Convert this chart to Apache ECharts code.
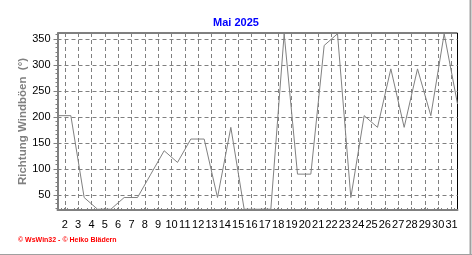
<!DOCTYPE html>
<html><head><meta charset="utf-8">
<script src="https://cdn.jsdelivr.net/npm/echarts@6/dist/echarts.min.js"></script>
<style>html,body{margin:0;padding:0;background:#fff}#c{width:472px;height:255px}</style>
</head><body><div id="c"></div>
<script>
// ---- data ----
const titleText = 'Mai 2025';
const yAxisName = 'Richtung Windböen  (°)';
const footerText = '© WsWin32 - © Heiko Blädern';
const days = [1,2,3,4,5,6,7,8,9,10,11,12,13,14,15,16,17,18,19,20,21,22,23,24,25,26,27,28,29,30,31];
const gustDirection = [202.5,202.5,45,22.5,22.5,45,45,90,135,112.5,157.5,157.5,45,180,22.5,22.5,22.5,360,90,90,337.5,360,45,202.5,180,292.5,180,292.5,202.5,360,225];
const xTickLabels = [2,3,4,5,6,7,8,9,10,11,12,13,14,15,16,17,18,19,20,21,22,23,24,25,26,27,28,29,30,31];
const yTickLabels = [50,100,150,200,250,300,350];

// ---- chart ----
const TICK_SHIFT = 0.45; // day labels sit between daily points
const grey = '#808080';
const font = 'Liberation Sans';
const chart = echarts.init(document.getElementById('c'), null, {renderer: 'canvas'});
const xTickPos = xTickLabels.map(d => d - TICK_SHIFT);
chart.setOption({
  animation: false,
  backgroundColor: '#fff',
  title: {
    text: titleText, left: 'center', top: 12,
    textStyle: {color: '#0000ff', fontSize: 11, fontWeight: 'bold', fontFamily: font}
  },
  grid: {left: 57.5, right: 14.5, top: 33, bottom: 45, show: true, borderColor: '#000', borderWidth: 1, backgroundColor: 'transparent'},
  xAxis: {
    type: 'value', min: 1, max: 31, interval: 1,
    axisLine: {show: true, onZero: false, lineStyle: {color: grey, width: 2}},
    axisTick: {show: true, inside: true, length: 3, customValues: xTickPos, lineStyle: {color: grey}},
    minorTick: {show: true, splitNumber: 4, length: 2, lineStyle: {color: grey}},
    axisLabel: {
      customValues: xTickPos, margin: 9, color: '#000', fontSize: 11, fontFamily: font,
      formatter: v => String(Math.round(v + TICK_SHIFT))
    },
    splitLine: {show: true, lineStyle: {color: grey, width: 1, type: [4, 3]}}
  },
  yAxis: {
    type: 'value', min: 21, max: 361.5,
    name: yAxisName, nameLocation: 'middle', nameRotate: 90, nameGap: 29, nameMoveOverlap: false,
    nameTextStyle: {color: grey, fontSize: 11.5, fontWeight: 'bold', fontFamily: font},
    axisLine: {show: true, lineStyle: {color: grey, width: 2}},
    axisTick: {show: true, inside: false, length: 4, customValues: yTickLabels, lineStyle: {color: grey}},
    minorTick: {show: true, splitNumber: 6, length: 2, lineStyle: {color: grey}},
    axisLabel: {customValues: yTickLabels, margin: 7, color: '#000', fontSize: 11, fontFamily: font},
    splitLine: {show: true, lineStyle: {color: grey, width: 1, type: [4, 3]}}
  },
  graphic: [
    {type: 'text', left: 18, top: 237, style: {text: footerText, fill: '#ff0000', font: 'bold 7px ' + font}},
    {type: 'rect', shape: {x: 469.5, y: 0, width: 2, height: 255}, style: {fill: '#a0a0a0'}},
    {type: 'rect', shape: {x: 0, y: 254, width: 472, height: 1}, style: {fill: '#a0a0a0'}}
  ],
  series: [{
    type: 'line', data: days.map((d, i) => [d, gustDirection[i]]),
    symbol: 'none', clip: true,
    lineStyle: {color: grey, width: 1}
  }]
});
</script></body></html>
